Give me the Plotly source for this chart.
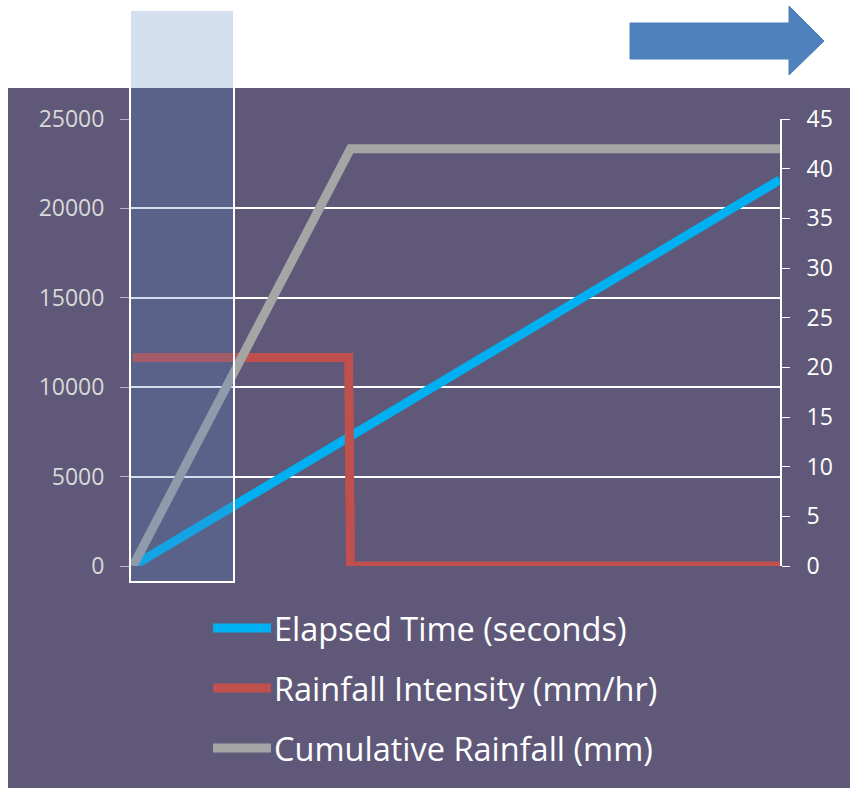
import plotly.graph_objects as go

# Storm event: rainfall held at a constant intensity, then stops
elapsed_s = [0, 7200, 7260, 21600]          # elapsed time (seconds)
intensity_mm_hr = [21, 21, 0, 0]            # rainfall intensity (mm/hr)
cumulative_mm = [0, 42, 42, 42]             # cumulative rainfall (mm)

series_names = ["Elapsed Time (seconds)", "Rainfall Intensity (mm/hr)",
                "Cumulative Rainfall (mm)"]
series_colors = ["#00B0F0", "#C0504D", "#A5A5A5"]

left_ticks = [0, 5000, 10000, 15000, 20000, 25000]
left_labels = ["0", "5000", "10000", "15000", "20000", "25000"]
right_ticks = [0, 5, 10, 15, 20, 25, 30, 35, 40, 45]

W, H = 850, 788
ML, MR, MT, MB = 130, 70, 119, 222
PW, PH = W - ML - MR, H - MT - MB


def px(x):
    return (x - ML) / PW


def py(y):
    return (H - MB - y) / PH


BG = "#5F5878"
FONT = "Open Sans"
LW = 9

fig = go.Figure()
fig.add_trace(go.Scatter(
    x=elapsed_s, y=elapsed_s, name=series_names[0], mode="lines",
    line=dict(color=series_colors[0], width=LW), yaxis="y"))
fig.add_trace(go.Scatter(
    x=elapsed_s, y=intensity_mm_hr, name=series_names[1], mode="lines",
    line=dict(color=series_colors[1], width=LW), yaxis="y2"))
fig.add_trace(go.Scatter(
    x=elapsed_s, y=cumulative_mm, name=series_names[2], mode="lines",
    line=dict(color=series_colors[2], width=LW), yaxis="y2"))

shapes = [
    # dark panel behind the chart
    dict(type="rect", xref="paper", yref="paper", layer="below",
         x0=px(8), x1=px(850), y0=py(788), y1=py(88),
         fillcolor=BG, line=dict(width=0)),
    # highlighted time window
    dict(type="rect", xref="paper", yref="paper", layer="above",
         x0=px(130), x1=px(234), y0=py(582), y1=py(10),
         fillcolor="rgba(79,129,189,0.25)", line=dict(color="white", width=2)),
    # direction arrow
    dict(type="path", xref="paper", yref="paper", layer="above",
         path=("M {},{} L {},{} L {},{} L {},{} L {},{} L {},{} L {},{} Z".format(
             px(630), py(23), px(789), py(23), px(789), py(6), px(824), py(41),
             px(789), py(75), px(789), py(59), px(630), py(59))),
         fillcolor="#4F81BD", line=dict(color="#4A7EBB", width=1)),
]

# legend: swatch line + label, stacked below the plot
annotations = []
for i, (name, color) in enumerate(zip(series_names, series_colors)):
    yc = 628 + 60 * i
    shapes.append(dict(type="line", xref="paper", yref="paper", layer="above",
                       x0=px(213), x1=px(271), y0=py(yc), y1=py(yc),
                       line=dict(color=color, width=LW)))
    annotations.append(dict(xref="paper", yref="paper", x=px(272), y=py(yc),
                            xanchor="left", yanchor="middle", showarrow=False,
                            text=name, font=dict(size=32.5, color="white", family=FONT)))

fig.update_layout(
    width=W, height=H,
    margin=dict(l=ML, r=MR, t=MT, b=MB, pad=0),
    paper_bgcolor="white", plot_bgcolor="rgba(0,0,0,0)",
    font=dict(family=FONT, color="white"),
    shapes=shapes,
    annotations=annotations,
    showlegend=False,
    xaxis=dict(range=[-100, 21600], showgrid=False, zeroline=False,
               showticklabels=False, ticks="", showline=False, fixedrange=True),
    yaxis=dict(range=[0, 25000], tickvals=left_ticks, ticktext=left_labels,
               showgrid=True, gridcolor="white", gridwidth=1.5, zeroline=False,
               showline=False, ticks="outside", ticklen=9, tickcolor="#B8B4C8",
               ticklabelstandoff=11,
               tickfont=dict(size=23, color="#D9D9D9", family=FONT)),
    yaxis2=dict(range=[0, 45], tickvals=right_ticks, overlaying="y", side="right",
                showgrid=False, zeroline=False, showline=True, linecolor="white",
                linewidth=2, ticks="outside", ticklen=8, tickcolor="white",
                ticklabelstandoff=12,
                tickfont=dict(size=23, color="white", family=FONT)),
)

fig.write_html("out.html")
